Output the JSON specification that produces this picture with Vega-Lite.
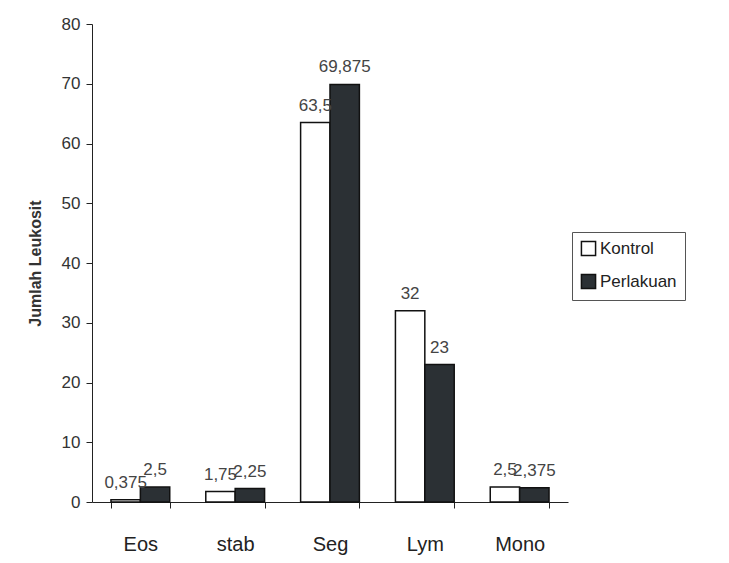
{
  "$schema": "https://vega.github.io/schema/vega-lite/v6.json",
  "width": 476,
  "height": 478,
  "autosize": "none",
  "padding": {"left": 92, "top": 24, "right": 161, "bottom": 61},
  "background": "white",
  "config": {"font": "Liberation Sans", "view": {"stroke": null}},
  "data": {
    "values": [
      {"kategori": "Eos", "kelompok": "Kontrol", "nilai": 0.375, "label": "0,375"},
      {"kategori": "Eos", "kelompok": "Perlakuan", "nilai": 2.5, "label": "2,5"},
      {"kategori": "stab", "kelompok": "Kontrol", "nilai": 1.75, "label": "1,75"},
      {"kategori": "stab", "kelompok": "Perlakuan", "nilai": 2.25, "label": "2,25"},
      {"kategori": "Seg", "kelompok": "Kontrol", "nilai": 63.5, "label": "63,5"},
      {"kategori": "Seg", "kelompok": "Perlakuan", "nilai": 69.875, "label": "69,875"},
      {"kategori": "Lym", "kelompok": "Kontrol", "nilai": 32, "label": "32"},
      {"kategori": "Lym", "kelompok": "Perlakuan", "nilai": 23, "label": "23"},
      {"kategori": "Mono", "kelompok": "Kontrol", "nilai": 2.5, "label": "2,5"},
      {"kategori": "Mono", "kelompok": "Perlakuan", "nilai": 2.375, "label": "2,375"}
    ]
  },
  "encoding": {
    "x": {
      "field": "kategori", "type": "nominal", "sort": null,
      "scale": {"paddingInner": 0.38, "paddingOuter": 0.2},
      "axis": {
        "title": null, "labelAngle": 0, "labelFontSize": 20, "labelColor": "#222",
        "labelPadding": 26, "domainColor": "#222", "tickColor": "#222",
        "tickBand": "extent", "tickSize": 6
      }
    },
    "y": {
      "field": "nilai", "type": "quantitative",
      "scale": {"domain": [0, 80]},
      "axis": {
        "title": "Jumlah Leukosit", "titleFontSize": 16, "titleFontWeight": "bold",
        "titleColor": "#333", "titlePadding": 18, "values": [0, 10, 20, 30, 40, 50, 60, 70, 80],
        "labelFontSize": 17, "labelColor": "#333", "labelPadding": 6,
        "grid": false, "domainColor": "#222", "tickColor": "#222", "tickSize": 6
      }
    },
    "xOffset": {"field": "kelompok", "type": "nominal", "sort": ["Kontrol", "Perlakuan"], "scale": {"paddingInner": 0}}
  },
  "layer": [
    {
      "mark": {"type": "bar", "stroke": "#111", "strokeWidth": 1.5},
      "encoding": {
        "fill": {
          "field": "kelompok", "type": "nominal",
          "scale": {"domain": ["Kontrol", "Perlakuan"], "range": ["#ffffff", "#2b3034"]},
          "legend": {
            "title": null, "orient": "none", "legendX": 480, "legendY": 208,
            "symbolType": "square", "symbolSize": 200, "symbolStrokeColor": "#111",
            "symbolStrokeWidth": 1.5, "labelFontSize": 17, "labelColor": "#222",
            "rowPadding": 12, "padding": 8, "strokeColor": "#555",
            "labelOffset": 3
          }
        }
      }
    },
    {
      "mark": {"type": "text", "baseline": "bottom", "dy": -8, "fontSize": 17, "color": "#444"},
      "encoding": {"text": {"field": "label"}}
    }
  ]
}
